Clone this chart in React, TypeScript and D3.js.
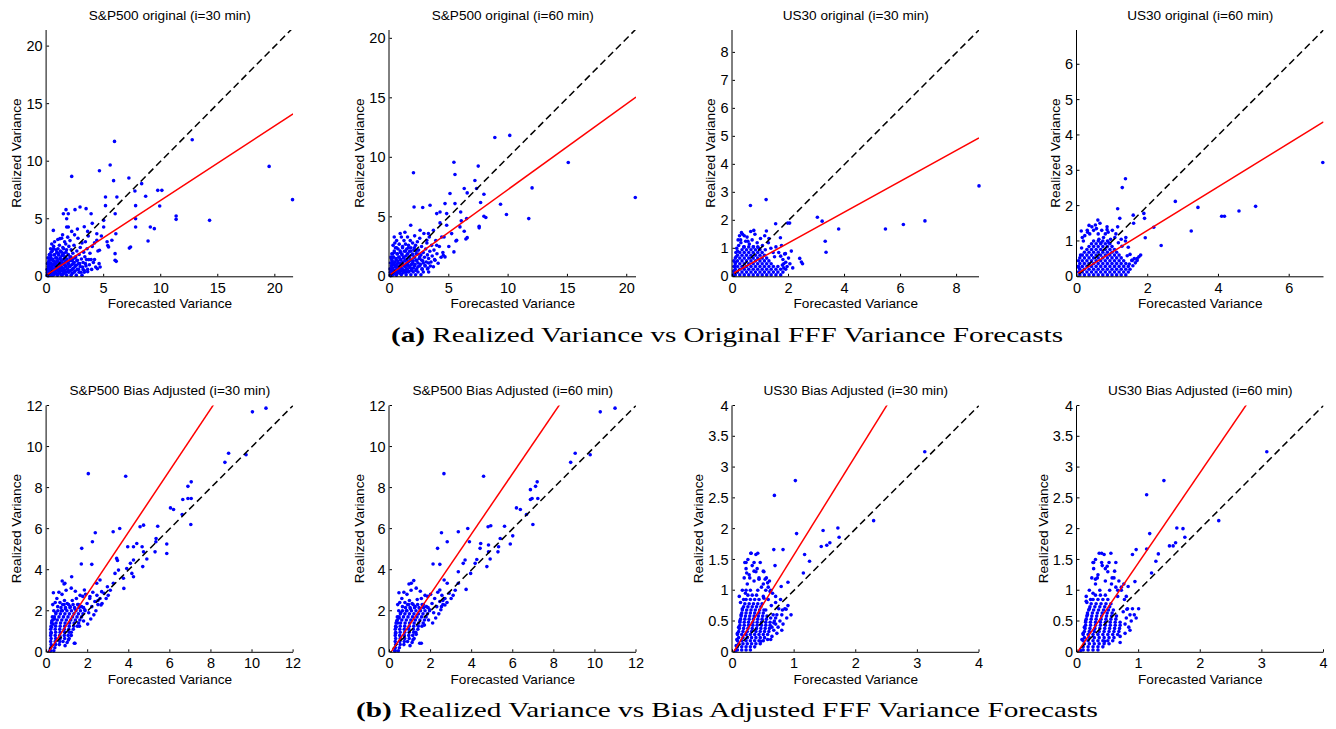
import React from "react";
import * as d3 from "d3";

type Pt = [number, number];

// ---------- titles / captions ----------
const panelTitles = [
  "S&P500 original (i=30 min)",
  "S&P500 original (i=60 min)",
  "US30 original (i=30 min)",
  "US30 original (i=60 min)",
  "S&P500 Bias Adjusted (i=30 min)",
  "S&P500 Bias Adjusted (i=60 min)",
  "US30 Bias Adjusted (i=30 min)",
  "US30 Bias Adjusted (i=60 min)",
];
const xAxisLabel = "Forecasted Variance";
const yAxisLabel = "Realized Variance";
const captionTags = ["(a)", "(b)"];
const captionTexts = [
  " Realized Variance vs Original FFF Variance Forecasts",
  " Realized Variance vs Bias Adjusted FFF Variance Forecasts",
];

// ---------- axes ----------
const xAxisMax = [21.6, 20.78, 8.8, 6.97, 12, 12, 4, 4];
const yAxisMax = [21.4, 20.7, 8.8, 6.97, 12, 12, 4, 4];
const xTickValues = [
  [0, 5, 10, 15, 20],
  [0, 5, 10, 15, 20],
  [0, 2, 4, 6, 8],
  [0, 2, 4, 6],
  [0, 2, 4, 6, 8, 10, 12],
  [0, 2, 4, 6, 8, 10, 12],
  [0, 1, 2, 3, 4],
  [0, 1, 2, 3, 4],
];
const yTickValues = [
  [0, 5, 10, 15, 20],
  [0, 5, 10, 15, 20],
  [0, 1, 2, 3, 4, 5, 6, 7, 8],
  [0, 1, 2, 3, 4, 5, 6],
  [0, 2, 4, 6, 8, 10, 12],
  [0, 2, 4, 6, 8, 10, 12],
  [0, 0.5, 1, 1.5, 2, 2.5, 3, 3.5, 4],
  [0, 0.5, 1, 1.5, 2, 2.5, 3, 3.5, 4],
];

// ---------- regression (red) lines and 45-degree (dashed) lines ----------
const fitIntercept = [0.13, 0.1, 0.09, 0.07, -0.15, -0.12, -0.03, -0.015];
const fitSlope = [0.647, 0.72, 0.552, 0.617, 1.5, 1.469, 1.61, 1.465];
const fitStartX = [0.1, 0.1, 0.05, 0.03, 0.1, 0.08, 0.02, 0.01];
const diagStartX = [0.1, 0.1, 0.08, 0.06, 0.12, 0.15, 0.05, 0.05];

// ---------- scatter data ----------
// dense cores, written as rows: [y, x1, x2, ...]
const spx30OrigCoreRows: number[][] = [
  [0.1, 0.2, 0.55, 0.95, 1.35, 1.75, 2.15, 2.6, 3.1],
  [0.35, 0.1, 0.4, 0.75, 1.15, 1.55, 1.95, 2.4, 2.85, 3.3],
  [0.6, 0.05, 0.25, 0.6, 1.0, 1.4, 1.85, 2.25, 2.7, 3.2, 3.6],
  [0.85, 0.15, 0.45, 0.85, 1.25, 1.65, 2.05, 2.5, 2.95],
  [1.1, 0.08, 0.3, 0.7, 1.1, 1.5, 1.9, 2.35, 2.8, 3.4],
  [1.35, 0.2, 0.55, 0.95, 1.35, 1.75, 2.2, 2.65],
  [1.6, 0.12, 0.35, 0.8, 1.2, 1.6, 2.05, 2.5],
  [1.85, 0.25, 0.65, 1.05, 1.45, 1.9],
  [2.1, 0.4, 0.9, 1.3, 1.7],
  [2.4, 0.6, 1.0, 1.5],
];
const spx60OrigCoreRows: number[][] = [
  [0.12, 0.2, 0.6, 1.0, 1.4, 1.8, 2.2, 2.65],
  [0.36, 0.1, 0.45, 0.8, 1.2, 1.6, 2.0, 2.4, 2.85, 3.3],
  [0.62, 0.05, 0.25, 0.65, 1.05, 1.45, 1.85, 2.3, 2.75, 3.2],
  [0.87, 0.15, 0.5, 0.9, 1.3, 1.7, 2.1, 2.55, 3.0, 3.45],
  [1.12, 0.08, 0.3, 0.7, 1.1, 1.5, 1.95, 2.4, 2.85, 3.3],
  [1.37, 0.2, 0.55, 0.95, 1.35, 1.8, 2.25, 2.7],
  [1.62, 0.12, 0.35, 0.8, 1.2, 1.65, 2.1, 2.55],
  [1.87, 0.25, 0.65, 1.05, 1.5, 1.95, 2.4],
  [2.12, 0.4, 0.9, 1.35, 1.8, 2.25],
  [2.4, 0.6, 1.1, 1.6, 2.1],
];
const us30OrigCoreRows: number[][] = [
  [0.05, 0.1, 0.26, 0.42, 0.58, 0.74, 0.9, 1.06, 1.22, 1.38, 1.55, 1.72],
  [0.15, 0.05, 0.18, 0.34, 0.5, 0.66, 0.82, 0.98, 1.14, 1.3, 1.46, 1.62, 1.8],
  [0.25, 0.1, 0.26, 0.42, 0.58, 0.74, 0.9, 1.06, 1.22, 1.38, 1.55, 1.72, 1.9],
  [0.35, 0.05, 0.18, 0.34, 0.5, 0.66, 0.82, 0.98, 1.14, 1.3, 1.46, 1.62],
  [0.45, 0.1, 0.26, 0.42, 0.58, 0.74, 0.9, 1.06, 1.22, 1.38],
  [0.55, 0.05, 0.18, 0.34, 0.5, 0.66, 0.82, 0.98, 1.14, 1.3],
  [0.65, 0.1, 0.26, 0.42, 0.58, 0.74, 0.9, 1.06, 1.22],
  [0.75, 0.18, 0.34, 0.5, 0.66, 0.82, 0.98, 1.14],
  [0.85, 0.26, 0.42, 0.58, 0.74, 0.9, 1.06],
  [0.95, 0.34, 0.5, 0.66, 0.82, 0.98],
  [1.05, 0.42, 0.58, 0.74, 0.9],
];
const us60OrigCoreRows: number[][] = [
  [0.04, 0.08, 0.21, 0.34, 0.47, 0.6, 0.73, 0.86, 0.99, 1.12, 1.25, 1.38],
  [0.12, 0.04, 0.15, 0.28, 0.41, 0.54, 0.67, 0.8, 0.93, 1.06, 1.19, 1.32, 1.45],
  [0.2, 0.08, 0.21, 0.34, 0.47, 0.6, 0.73, 0.86, 0.99, 1.12, 1.25, 1.38, 1.5],
  [0.28, 0.04, 0.15, 0.28, 0.41, 0.54, 0.67, 0.8, 0.93, 1.06, 1.19, 1.32, 1.45],
  [0.36, 0.08, 0.21, 0.34, 0.47, 0.6, 0.73, 0.86, 0.99, 1.12, 1.25, 1.38],
  [0.44, 0.04, 0.15, 0.28, 0.41, 0.54, 0.67, 0.8, 0.93, 1.06, 1.19, 1.32],
  [0.52, 0.08, 0.21, 0.34, 0.47, 0.6, 0.73, 0.86, 0.99, 1.12, 1.25],
  [0.6, 0.15, 0.28, 0.41, 0.54, 0.67, 0.8, 0.93, 1.06, 1.19],
  [0.68, 0.21, 0.34, 0.47, 0.6, 0.73, 0.86, 0.99, 1.12],
  [0.76, 0.28, 0.41, 0.54, 0.67, 0.8, 0.93, 1.06],
  [0.84, 0.34, 0.47, 0.6, 0.73, 0.86, 0.99],
  [0.92, 0.41, 0.54, 0.67, 0.8, 0.93],
  [1.0, 0.47, 0.6, 0.73, 0.86],
];
const spx30AdjCoreRows: number[][] = [
  [0.05, 0.2, 0.35],
  [0.2, 0.2, 0.4],
  [0.35, 0.22, 0.44, 0.62],
  [0.5, 0.2, 0.42, 0.64, 0.8],
  [0.65, 0.22, 0.44, 0.66, 0.88],
  [0.8, 0.2, 0.42, 0.64, 0.86, 1.05],
  [0.95, 0.22, 0.44, 0.66, 0.88, 1.1, 1.2],
  [1.1, 0.2, 0.42, 0.64, 0.86, 1.08, 1.3],
  [1.25, 0.22, 0.44, 0.66, 0.88, 1.1, 1.32, 1.5],
  [1.4, 0.24, 0.46, 0.68, 0.9, 1.12, 1.34, 1.56],
  [1.55, 0.3, 0.52, 0.74, 0.96, 1.18, 1.4, 1.62],
  [1.7, 0.38, 0.6, 0.82, 1.04, 1.26, 1.48, 1.7],
  [1.85, 0.45, 0.67, 0.89, 1.11, 1.33, 1.55, 1.77],
  [2.0, 0.55, 0.77, 0.99, 1.21, 1.43, 1.65, 1.87],
  [2.15, 0.7, 0.92, 1.14, 1.36, 1.58, 1.8],
  [2.3, 0.85, 1.07, 1.29, 1.51],
];
const spx60AdjCoreRows: number[][] = [
  [0.05, 0.28, 0.43],
  [0.2, 0.28, 0.48],
  [0.35, 0.3, 0.52, 0.7],
  [0.5, 0.28, 0.5, 0.72, 0.88],
  [0.65, 0.3, 0.52, 0.74, 0.96],
  [0.8, 0.28, 0.5, 0.72, 0.94, 1.13],
  [0.95, 0.3, 0.52, 0.74, 0.96, 1.18, 1.28],
  [1.1, 0.28, 0.5, 0.72, 0.94, 1.16, 1.38],
  [1.25, 0.3, 0.52, 0.74, 0.96, 1.18, 1.4, 1.58],
  [1.4, 0.32, 0.54, 0.76, 0.98, 1.2, 1.42, 1.64],
  [1.55, 0.38, 0.6, 0.82, 1.04, 1.26, 1.48, 1.7],
  [1.7, 0.46, 0.68, 0.9, 1.12, 1.34, 1.56, 1.78],
  [1.85, 0.53, 0.75, 0.97, 1.19, 1.41, 1.63, 1.85],
  [2.0, 0.63, 0.85, 1.07, 1.29, 1.51, 1.73, 1.95],
  [2.15, 0.78, 1.0, 1.22, 1.44, 1.66, 1.88],
  [2.3, 0.93, 1.15, 1.37, 1.59],
];
const us30AdjCoreRows: number[][] = [
  [0.03, 0.08, 0.15, 0.22, 0.29],
  [0.08, 0.08, 0.15, 0.22, 0.29, 0.36],
  [0.13, 0.1, 0.17, 0.24, 0.31, 0.38, 0.45],
  [0.18, 0.08, 0.15, 0.22, 0.29, 0.36, 0.43, 0.5],
  [0.23, 0.1, 0.17, 0.24, 0.31, 0.38, 0.45, 0.52],
  [0.28, 0.08, 0.15, 0.22, 0.29, 0.36, 0.43, 0.5, 0.57],
  [0.33, 0.1, 0.17, 0.24, 0.31, 0.38, 0.45, 0.52, 0.59],
  [0.38, 0.11, 0.18, 0.25, 0.32, 0.39, 0.46, 0.53, 0.6],
  [0.43, 0.12, 0.19, 0.26, 0.33, 0.4, 0.47, 0.54, 0.61],
  [0.48, 0.12, 0.19, 0.26, 0.33, 0.4, 0.47, 0.54, 0.61],
  [0.53, 0.13, 0.2, 0.27, 0.34, 0.41, 0.48, 0.55],
  [0.58, 0.14, 0.21, 0.28, 0.35, 0.42, 0.49, 0.56],
  [0.63, 0.15, 0.22, 0.29, 0.36, 0.43, 0.5],
  [0.68, 0.16, 0.23, 0.3, 0.37, 0.44, 0.51],
  [0.73, 0.18, 0.25, 0.32, 0.39, 0.46],
  [0.78, 0.2, 0.27, 0.34, 0.41, 0.48],
  [0.85, 0.22, 0.29, 0.36, 0.43],
  [0.92, 0.25, 0.32, 0.39],
];
const us60AdjCoreRows: number[][] = [
  [0.03, 0.1, 0.18, 0.26, 0.34],
  [0.08, 0.1, 0.18, 0.26, 0.34, 0.42],
  [0.13, 0.12, 0.2, 0.28, 0.36, 0.44, 0.52],
  [0.18, 0.1, 0.18, 0.26, 0.34, 0.42, 0.5, 0.58],
  [0.23, 0.12, 0.2, 0.28, 0.36, 0.44, 0.52, 0.6],
  [0.28, 0.1, 0.18, 0.26, 0.34, 0.42, 0.5, 0.58, 0.66],
  [0.33, 0.12, 0.2, 0.28, 0.36, 0.44, 0.52, 0.6, 0.68],
  [0.38, 0.13, 0.21, 0.29, 0.37, 0.45, 0.53, 0.61, 0.69],
  [0.43, 0.14, 0.22, 0.3, 0.38, 0.46, 0.54, 0.62, 0.7],
  [0.48, 0.14, 0.22, 0.3, 0.38, 0.46, 0.54, 0.62, 0.7],
  [0.53, 0.15, 0.23, 0.31, 0.39, 0.47, 0.55, 0.63],
  [0.58, 0.16, 0.24, 0.32, 0.4, 0.48, 0.56, 0.64],
  [0.63, 0.17, 0.25, 0.33, 0.41, 0.49, 0.57],
  [0.68, 0.19, 0.27, 0.35, 0.43, 0.51, 0.59],
  [0.73, 0.21, 0.29, 0.37, 0.45, 0.53],
  [0.78, 0.23, 0.31, 0.39, 0.47, 0.55],
  [0.85, 0.26, 0.34, 0.42, 0.5],
  [0.92, 0.3, 0.38, 0.46],
];

// scattered cluster points and outliers, [x, y]
const spx30OrigCluster: Pt[] = [
  [0.05,0.08],[0.08,0.3],[0.1,0.15],[0.12,0.5],[0.15,0.05],[0.18,0.7],[0.2,0.25],[0.22,1.0],[0.25,0.4],[0.28,0.12],[0.3,0.8],[0.3,1.4],[0.33,0.3],[0.35,0.55],[0.38,1.8],[0.4,0.1],[0.42,1.1],[0.45,0.45],[0.48,0.75],[0.5,2.2],[0.5,0.2],[0.52,1.5],[0.55,0.35],[0.58,1.0],[0.6,0.6],[0.62,2.6],[0.65,0.15],[0.68,1.3],[0.7,0.5],[0.72,1.9],[0.75,0.85],[0.78,0.3],[0.8,1.1],[0.82,2.3],[0.85,0.6],[0.88,1.6],[0.9,0.2],[0.92,0.9],[0.95,1.3],[0.98,3.2],[1.0,0.45],[1.02,2.0],[1.05,0.75],[1.08,1.15],[1.1,0.3],[1.12,2.7],[1.15,1.5],[1.18,0.6],[1.2,1.0],[1.22,2.2],[1.25,0.15],[1.28,1.3],[1.3,0.8],[1.32,3.3],[1.35,1.8],[1.38,0.45],[1.4,1.1],[1.42,2.5],[1.45,0.7],[1.48,1.45],[1.5,0.25],[1.52,2.0],[1.55,1.0],[1.58,3.0],[1.6,0.55],[1.62,1.7],[1.65,1.25],[1.68,2.8],[1.7,0.35],[1.72,0.9],[1.75,2.3],[1.78,1.5],[1.8,0.65],[1.85,3.4],[1.88,1.1],[1.9,1.9],[1.92,0.4],[1.95,2.6],[2.0,0.85],[2.02,1.35],[2.05,3.1],[2.1,0.5],[2.12,1.7],[2.15,2.3],[2.2,1.0],[2.25,0.25],[2.28,1.45],[2.3,2.0],[2.35,0.7],[2.4,2.7],[2.42,1.2],[2.45,3.6],[2.5,0.45],[2.55,1.7],[2.6,0.95],[2.65,2.2],[2.7,1.4],[2.75,3.3],[2.8,0.6],[2.85,1.9],[2.9,1.1],[2.95,2.5],[3.0,0.35],[3.05,1.5],[3.1,2.9],[3.15,0.8],[3.2,1.2],[3.25,2.1],[3.3,0.5],[3.35,1.7],[3.4,3.0],[3.45,0.9],[3.5,1.45],[3.55,2.4],[3.6,0.4],[3.7,1.45],[3.75,1.0],[3.8,2.0],[3.9,1.45],[3.95,0.6],[4.0,2.6],[4.1,1.2],[4.2,1.45],[4.3,0.8],[4.45,0.65],[4.5,2.2],[4.6,1.1],[3.65,3.5],[2.2,3.9],[1.4,3.6],[0.7,3.0],[0.45,2.8],[0.25,1.9],[0.15,1.2],[0.35,2.4],
];
const spx30OrigOutliers: Pt[] = [
  [12.76,11.87],[5.95,11.72],[19.5,9.55],[2.2,8.68],[4.63,9.17],[5.57,9.67],[5.87,8.31],[7.21,8.54],[8.33,8.05],[21.55,6.66],[9.74,7.47],[10.1,7.47],[7.74,7.41],[8.68,6.95],[9.91,6.11],[7.8,6.14],[11.35,5.24],[11.35,4.95],[14.28,4.86],[9.09,4.28],[9.44,4.14],[7.8,5.0],[7.8,4.28],[8.89,3.07],[7.36,2.55],[5.16,6.89],[6.16,6.89],[5.16,6.14],[4.63,2.26],[4.69,0.81],[5.43,2.55],[6.01,5.44],[6.07,3.7],[6.0,1.97],[6.0,1.39],[5.72,3.13],[5.0,4.86],[5.0,4.28],[4.4,3.7],[4.4,3.13],[3.9,5.44],[3.46,5.88],[2.93,6.02],[2.49,5.79],[1.7,5.79],[1.47,5.44],[1.9,5.44],[1.76,4.28],[1.9,4.28],[1.76,5.0],[0.59,3.99],[1.17,3.27],[5.36,2.67],[6.1,1.3],[7.25,2.45],[3.3,4.3],[4.0,4.6],[2.7,4.1],[3.6,3.9],[4.8,3.5],[5.3,3.0],[4.2,2.9],
];

const spx60OrigCluster: Pt[] = [
  [0.05,0.1],[0.08,0.35],[0.1,0.05],[0.12,0.6],[0.15,0.2],[0.18,0.9],[0.2,0.4],[0.22,1.3],[0.25,0.1],[0.28,0.7],[0.3,1.6],[0.32,0.3],[0.35,1.0],[0.38,0.5],[0.4,2.0],[0.42,0.2],[0.45,1.2],[0.48,0.8],[0.5,2.4],[0.52,0.4],[0.55,1.5],[0.58,0.1],[0.6,1.0],[0.62,0.6],[0.65,1.9],[0.68,0.3],[0.7,1.3],[0.72,2.3],[0.75,0.8],[0.78,0.5],[0.8,1.6],[0.82,2.7],[0.85,1.1],[0.88,0.25],[0.9,0.7],[0.92,2.0],[0.95,1.4],[0.98,0.45],[1.0,3.3],[1.02,1.0],[1.05,1.8],[1.08,0.6],[1.1,2.5],[1.12,1.2],[1.15,0.3],[1.18,1.55],[1.2,0.9],[1.22,3.0],[1.25,2.1],[1.28,0.5],[1.3,1.3],[1.32,0.8],[1.35,2.7],[1.38,1.7],[1.4,0.35],[1.42,1.0],[1.45,2.3],[1.48,1.4],[1.5,0.6],[1.52,3.3],[1.55,1.9],[1.58,0.9],[1.6,2.6],[1.62,1.2],[1.65,0.4],[1.68,1.6],[1.7,2.1],[1.72,0.75],[1.75,3.0],[1.78,1.35],[1.8,2.4],[1.85,1.0],[1.88,0.5],[1.9,1.8],[1.95,2.8],[2.0,1.3],[2.02,0.7],[2.05,2.2],[2.1,1.6],[2.12,3.4],[2.15,1.0],[2.2,2.6],[2.22,0.5],[2.25,1.9],[2.3,1.3],[2.35,2.9],[2.4,0.8],[2.45,2.2],[2.5,1.5],[2.55,3.2],[2.6,1.0],[2.65,1.8],[2.7,2.5],[2.75,0.6],[2.8,1.3],[2.85,2.0],[2.9,3.6],[2.95,1.6],[3.0,0.9],[3.05,2.3],[3.1,1.2],[3.15,2.8],[3.2,1.8],[3.25,0.7],[3.3,1.5],[3.35,3.3],[3.4,2.1],[3.5,1.2],[3.55,2.6],[3.6,1.7],[3.7,0.8],[3.75,2.2],[3.8,1.4],[3.9,3.0],[4.0,1.9],[4.1,1.1],[4.2,2.5],[4.35,1.6],[4.5,2.0],[4.6,3.3],[0.3,2.6],[0.6,3.0],[0.4,3.3],[0.9,3.6],[1.3,3.7],[0.2,1.9],[0.15,1.5],[0.45,2.8],
];
const spx60OrigOutliers: Pt[] = [
  [8.88,11.67],[10.14,11.84],[15.07,9.57],[20.72,6.62],[12.02,7.43],[11.74,4.85],[9.86,5.19],[9.36,6.06],[5.43,9.59],[5.52,8.56],[2.02,8.7],[7.48,9.26],[7.2,8.05],[7.34,7.38],[7.96,6.9],[6.3,7.38],[6.55,7.01],[5.52,6.11],[5.1,6.96],[7.68,6.2],[7.96,5.05],[8.12,4.94],[7.56,4.21],[7.56,4.07],[6.5,4.85],[6.55,3.25],[6.44,3.14],[6.3,3.79],[6.05,4.66],[6.0,5.4],[5.66,3.03],[5.6,2.97],[5.43,2.05],[4.54,1.77],[4.68,1.63],[3.84,1.35],[4.68,6.11],[4.82,5.27],[4.26,5.41],[3.98,5.27],[3.42,5.97],[2.8,5.78],[2.07,5.83],[1.79,4.29],[4.26,4.49],[4.82,4.29],[5.94,4.15],[5.24,3.59],[3.98,2.61],[3.7,3.87],[3.28,3.59],[2.58,3.87],[3.14,3.03],[4.4,3.3],[5.0,2.5],
];

const us30OrigCluster: Pt[] = [
  [0.03,0.05],[0.05,0.2],[0.08,0.35],[0.1,0.5],[0.13,0.7],[0.18,0.9],[0.22,1.1],[0.29,1.3],[0.36,1.5],[0.4,1.05],[0.47,1.25],[0.52,1.4],[0.6,1.15],[0.65,1.6],[0.7,1.3],[0.75,1.05],[0.8,1.5],[0.88,1.2],[0.95,1.0],[1.0,1.35],[1.07,1.1],[1.15,1.45],[1.17,0.95],[1.28,1.2],[1.37,1.0],[1.45,0.85],[1.5,0.7],[1.55,1.05],[1.65,0.85],[1.72,0.72],[1.75,1.1],[1.78,0.4],[1.8,0.6],[1.83,0.3],[1.86,0.8],[1.9,0.5],[1.95,0.35],[2.0,0.65],[2.05,0.45],[2.1,0.9],[2.15,0.3],[0.15,1.0],[0.2,1.3],[0.25,1.45],[0.12,0.85],[0.3,1.2],[0.42,1.45],[0.55,1.25],
];
const us30OrigOutliers: Pt[] = [
  [8.8,3.23],[6.87,1.98],[6.1,1.85],[5.46,1.69],[3.79,1.69],[3.03,2.11],[3.2,1.97],[3.31,1.25],[3.34,0.86],[0.64,2.53],[1.2,2.74],[1.54,1.88],[1.97,1.9],[2.04,1.9],[1.21,1.62],[0.76,1.64],[0.32,1.56],[1.71,1.38],[1.3,1.35],[2.4,0.64],[2.46,0.51],[2.5,0.45],[1.89,0.81],[1.83,0.45],
];

const us60OrigCluster: Pt[] = [
  [0.05,0.25],[0.1,0.6],[0.13,0.8],[0.18,1.0],[0.22,1.15],[0.29,1.3],[0.36,1.2],[0.47,1.3],[0.52,1.45],[0.6,1.2],[0.65,1.5],[0.7,1.3],[0.75,1.1],[0.8,1.2],[0.88,1.25],[0.95,1.05],[1.0,1.3],[1.07,1.1],[1.15,1.4],[1.17,0.95],[1.27,0.85],[1.37,1.0],[1.42,0.58],[1.45,0.82],[1.48,0.35],[1.5,0.62],[1.55,0.45],[1.58,0.3],[1.62,0.5],[1.65,0.38],[1.7,0.45],[1.75,0.55],[0.15,1.1],[0.3,1.25],[0.42,1.4],[0.55,1.35],[0.62,1.05],[0.68,0.95],[0.9,0.95],[1.1,1.2],[1.25,1.05],[0.85,1.4],
];
const us60OrigOutliers: Pt[] = [
  [6.95,3.22],[5.05,1.98],[4.58,1.85],[4.09,1.7],[4.17,1.7],[3.42,1.95],[2.78,2.12],[3.23,1.28],[2.38,0.87],[2.17,1.39],[1.93,1.09],[1.37,2.76],[1.28,2.51],[1.15,1.91],[1.21,1.64],[1.89,1.78],[1.91,1.64],[1.59,1.73],[1.7,0.5],[1.56,0.45],[0.12,1.28],[0.34,1.44],[0.59,1.59],[0.85,1.32],[1.38,1.1],[1.6,1.5],[1.8,0.6],
];

const spx30AdjCluster: Pt[] = [
  [0.15,0.05],[0.22,0.9],[0.24,1.2],[0.32,1.35],[0.38,1.6],[0.45,1.9],[0.54,2.2],[0.65,2.4],[0.72,2.0],[0.78,2.3],[0.87,2.5],[0.92,2.1],[1.0,2.35],[1.15,2.2],[1.25,2.5],[1.38,2.1],[1.45,2.6],[1.55,2.3],[1.63,2.75],[1.7,2.2],[1.76,2.7],[1.86,2.05],[1.9,2.8],[1.97,2.35],[2.0,1.35],[2.05,1.9],[2.1,2.6],[2.15,1.6],[2.2,2.2],[2.25,2.9],[2.3,1.8],[2.35,2.45],[2.4,2.0],[2.45,2.75],[2.5,2.3],[2.6,2.6],[2.7,2.35],[2.8,2.85],[0.9,0.3],[1.0,0.45],[1.1,0.65],[0.42,2.4],[0.5,2.6],[0.6,2.9],[0.35,2.0],[0.28,1.7],[0.75,2.8],[0.95,3.0],[0.85,3.3],[1.2,3.1],[1.4,2.95],[0.3,2.3],[0.25,1.5],[1.35,0.42],[1.6,1.25],[1.8,1.5],[1.2,0.8],
];
const spx30AdjOutliers: Pt[] = [
  [10.68,11.87],[10.02,11.69],[8.86,9.67],[8.68,9.23],[9.71,9.6],[2.03,8.68],[3.85,8.55],[7.04,8.28],[6.88,8.06],[7.04,7.47],[6.88,7.47],[6.63,7.42],[6.03,7.01],[6.18,6.93],[6.6,6.69],[7.02,6.2],[4.72,6.17],[4.55,6.09],[5.41,6.12],[3.56,6.01],[3.24,5.85],[2.37,5.8],[2.23,5.36],[1.71,5.04],[1.69,4.28],[2.2,4.26],[3.95,5.12],[4.23,5.12],[4.39,5.28],[4.65,5.12],[5.33,5.52],[5.32,5.36],[5.85,5.25],[5.85,4.79],[5.28,4.87],[4.72,4.87],[4.88,4.52],[4.68,4.15],[4.23,4.47],[4.08,4.31],[3.9,4.06],[3.45,4.45],[3.5,3.98],[3.33,3.82],[3.41,4.55],[4.15,3.82],[4.23,3.66],[3.76,3.09],[3.74,3.58],[3.25,3.34],[2.96,3.17],[2.6,3.5],[2.44,3.34],[2.68,2.93],[2.65,2.28],[2.11,2.69],[1.84,3.01],[1.22,3.66],[0.89,3.34],[0.76,3.45],[0.33,2.88],[1.38,0.42],[1.06,0.58],[2.9,2.6],[3.1,3.0],[3.0,2.75],[2.5,2.5],
];

const spx60AdjCluster: Pt[] = [
  [0.25,0.05],[0.3,0.9],[0.32,1.2],[0.4,1.4],[0.47,1.65],[0.55,1.9],[0.63,2.2],[0.75,2.4],[0.82,2.0],[0.88,2.3],[0.97,2.5],[1.02,2.1],[1.1,2.35],[1.25,2.2],[1.35,2.55],[1.48,2.1],[1.55,2.6],[1.65,2.3],[1.73,2.75],[1.8,2.2],[1.86,2.7],[1.96,2.05],[2.0,2.8],[2.07,2.35],[2.1,1.4],[2.15,1.9],[2.2,2.6],[2.25,1.65],[2.3,2.2],[2.35,2.9],[2.4,1.85],[2.45,2.45],[2.5,2.05],[2.55,2.75],[2.6,2.3],[2.7,2.6],[2.8,2.4],[2.9,2.85],[1.0,0.3],[1.1,0.45],[1.2,0.65],[0.5,2.4],[0.6,2.6],[0.7,2.9],[0.45,2.0],[0.38,1.7],[0.85,2.8],[1.05,3.0],[0.95,3.3],[1.3,3.1],[1.5,2.95],[0.4,2.3],[0.35,1.5],[1.55,0.42],[1.7,1.3],[1.9,1.55],[1.3,0.85],
];
const spx60AdjOutliers: Pt[] = [
  [10.98,11.87],[10.26,11.69],[9.04,9.67],[8.82,9.23],[9.77,9.6],[2.65,8.68],[4.58,8.55],[7.19,8.28],[7.11,8.06],[6.86,7.9],[7.22,7.47],[6.94,7.47],[6.86,7.42],[6.18,7.01],[6.37,6.93],[6.67,6.69],[6.98,6.2],[4.93,6.14],[4.8,6.09],[5.6,6.12],[3.81,6.01],[3.35,5.85],[2.53,5.8],[2.34,5.04],[2.81,5.36],[2.12,4.28],[2.45,4.26],[3.89,5.36],[4.41,5.04],[4.44,5.28],[4.82,5.2],[5.31,5.12],[5.39,5.52],[5.88,5.25],[6.0,5.65],[5.28,4.87],[4.82,4.87],[4.9,4.52],[4.74,4.15],[4.25,4.5],[4.17,4.31],[3.95,3.82],[3.68,4.47],[3.59,4.31],[3.35,3.9],[3.73,3.04],[3.35,3.34],[2.81,3.34],[2.66,3.5],[2.45,3.01],[2.7,2.28],[2.53,2.2],[1.06,3.34],[1.18,3.47],[0.46,2.88],[1.47,0.42],[1.14,0.58],[3.0,2.6],[3.2,3.0],[3.1,2.75],[2.6,2.5],
];

const us30AdjCluster: Pt[] = [
  [0.05,0.02],[0.06,0.1],[0.07,0.2],[0.08,0.3],[0.1,0.4],[0.12,0.5],[0.14,0.6],[0.16,0.7],[0.18,0.85],[0.21,0.95],[0.24,1.1],[0.27,1.25],[0.29,1.0],[0.32,1.4],[0.35,1.15],[0.38,1.3],[0.41,1.0],[0.43,1.2],[0.47,1.05],[0.5,0.9],[0.51,1.3],[0.54,1.0],[0.58,0.85],[0.6,1.15],[0.62,0.55],[0.63,0.75],[0.64,0.4],[0.65,0.95],[0.66,0.6],[0.67,0.35],[0.68,0.5],[0.7,0.8],[0.7,0.45],[0.72,0.6],[0.74,0.4],[0.75,0.7],[0.77,0.5],[0.78,0.85],[0.8,0.6],[0.82,0.45],[0.85,0.7],[0.88,0.55],[0.9,0.75],[0.95,0.6],[0.13,0.8],[0.16,1.0],[0.19,1.2],[0.22,1.35],[0.25,1.5],[0.2,1.45],[0.28,1.2],[0.35,1.45],[0.4,1.35],[0.11,0.9],[0.3,1.6],[0.38,1.58],[0.55,1.2],[0.62,1.0],[0.45,1.45],[0.5,1.1],[0.57,0.2],[0.64,0.25],[0.72,0.3],[0.8,0.35],[0.62,0.2],[0.7,0.9],[0.58,1.05],
];
const us30AdjOutliers: Pt[] = [
  [3.12,3.25],[2.29,2.13],[1.02,2.78],[0.68,2.54],[1.04,1.92],[1.47,1.97],[1.71,2.01],[1.73,1.86],[1.44,1.71],[1.53,1.73],[1.58,1.77],[1.17,1.58],[1.25,1.47],[1.15,1.28],[0.82,1.66],[0.67,1.66],[0.69,1.4],[0.9,1.13],[0.79,1.06],[0.87,0.69],[0.81,0.68],[0.67,0.47],[0.7,0.55],[0.3,1.6],[0.41,1.6],[0.22,1.45],[0.23,1.28],[0.22,1.0],[0.35,1.31],[0.5,1.31],[0.53,1.18],[0.43,1.18],[0.57,1.12],[0.61,0.98],[0.51,0.87],[0.54,0.68],[0.46,0.17],
];

const us60AdjCluster: Pt[] = [
  [0.06,0.02],[0.08,0.2],[0.1,0.3],[0.12,0.4],[0.14,0.5],[0.17,0.6],[0.2,0.7],[0.22,0.85],[0.26,0.95],[0.3,1.1],[0.34,1.25],[0.37,1.0],[0.41,1.4],[0.46,1.15],[0.5,1.3],[0.53,1.0],[0.57,1.2],[0.63,1.05],[0.66,0.9],[0.68,1.15],[0.72,1.0],[0.75,0.65],[0.77,0.85],[0.78,0.45],[0.8,0.55],[0.82,0.7],[0.84,0.4],[0.86,0.6],[0.88,0.5],[0.9,0.7],[0.93,0.6],[0.96,0.55],[1.0,0.7],[0.16,0.8],[0.2,1.0],[0.24,1.2],[0.27,1.35],[0.3,1.5],[0.26,1.45],[0.33,1.2],[0.4,1.45],[0.46,1.35],[0.15,0.9],[0.36,1.6],[0.44,1.58],[0.6,1.2],[0.66,1.0],[0.52,1.45],[0.56,1.1],[0.7,0.25],[0.78,0.3],[0.86,0.35],[0.7,0.15],[0.8,0.9],[0.72,1.05],[0.76,1.1],
];
const us60AdjOutliers: Pt[] = [
  [3.08,3.25],[2.3,2.13],[1.41,2.78],[1.13,2.55],[1.18,1.92],[1.62,2.01],[1.72,2.0],[1.75,1.86],[1.5,1.72],[1.56,1.72],[1.6,1.77],[1.32,1.59],[1.28,1.47],[1.21,1.28],[0.96,1.66],[1.13,1.67],[0.9,1.58],[0.94,1.14],[0.83,1.06],[0.81,0.69],[0.4,1.6],[0.55,1.6],[0.27,1.45],[0.63,1.45],[0.3,1.18],[0.49,1.39],[0.61,1.31],[0.15,0.82],[0.45,0.17],
];

function rowsToPts(rows: number[][]): Pt[] {
  const out: Pt[] = [];
  rows.forEach((r) => {
    for (let i = 1; i < r.length; i++) out.push([r[i], r[0]]);
  });
  return out;
}

const panelPoints: Pt[][] = [
  rowsToPts(spx30OrigCoreRows).concat(spx30OrigCluster, spx30OrigOutliers),
  rowsToPts(spx60OrigCoreRows).concat(spx60OrigCluster, spx60OrigOutliers),
  rowsToPts(us30OrigCoreRows).concat(us30OrigCluster, us30OrigOutliers),
  rowsToPts(us60OrigCoreRows).concat(us60OrigCluster, us60OrigOutliers),
  rowsToPts(spx30AdjCoreRows).concat(spx30AdjCluster, spx30AdjOutliers),
  rowsToPts(spx60AdjCoreRows).concat(spx60AdjCluster, spx60AdjOutliers),
  rowsToPts(us30AdjCoreRows).concat(us30AdjCluster, us30AdjOutliers),
  rowsToPts(us60AdjCoreRows).concat(us60AdjCluster, us60AdjOutliers),
];

// ---------- layout ----------
const W = 1336;
const H = 729;
const panelLefts = [46.6, 389.5, 732.5, 1077];
const rowTops = [30, 405.5];
const plotW = 246.5;
const plotH = 246.3;
const tickFont = 14.5;
const labelFont = 13.6;
const FONT = "'Liberation Sans', Arial, Helvetica, sans-serif";
const BLUE = "#0000ff";
const RED = "#ff0000";

function tickText(v: number) {
  return String(v);
}
function textW(s: string, size: number) {
  let w = 0;
  for (const c of s) w += c === "." ? 0.278 : 0.556;
  return w * size;
}

function Panel({ idx }: { idx: number }) {
  const row = idx < 4 ? 0 : 1;
  const col = idx % 4;
  const left = panelLefts[col];
  const top = rowTops[row];
  const xMax = xAxisMax[idx];
  const yMax = yAxisMax[idx];
  const x = d3.scaleLinear().domain([0, xMax]).range([0, plotW]);
  const y = d3.scaleLinear().domain([0, yMax]).range([plotH, 0]);
  const line = d3
    .line<Pt>()
    .x((d) => x(d[0]))
    .y((d) => y(d[1]));
  const fitPts: Pt[] = [
    [fitStartX[idx], fitIntercept[idx] + fitSlope[idx] * fitStartX[idx]],
    [xMax, fitIntercept[idx] + fitSlope[idx] * xMax],
  ];
  const diagEnd = Math.max(xMax, yMax);
  const diagPts: Pt[] = [
    [diagStartX[idx], diagStartX[idx]],
    [diagEnd, diagEnd],
  ];
  const yTicks = yTickValues[idx];
  const maxTickW = Math.max(...yTicks.map((v) => textW(tickText(v), tickFont)));
  const clipId = `clip-${idx}`;
  return (
    <g transform={`translate(${left},${top})`}>
      <defs>
        <clipPath id={clipId}>
          <rect x={0} y={0} width={plotW} height={plotH} />
        </clipPath>
      </defs>
      <g fill={BLUE}>
        {panelPoints[idx].map((p, i) => (
          <circle key={i} cx={x(p[0])} cy={y(p[1])} r={1.8} />
        ))}
      </g>
      <g clipPath={`url(#${clipId})`}>
        <path
          d={line(diagPts) || ""}
          fill="none"
          stroke="#000"
          strokeWidth={1.5}
          strokeDasharray="7,4"
        />
        <path d={line(fitPts) || ""} fill="none" stroke={RED} strokeWidth={1.5} />
      </g>
      <line x1={0} y1={plotH + 0.5} x2={plotW} y2={plotH + 0.5} stroke="#000" strokeWidth={1} />
      <line x1={-0.5} y1={0} x2={-0.5} y2={plotH + 0.5} stroke="#000" strokeWidth={1} />
      {xTickValues[idx].map((v) => (
        <g key={"xt" + v}>
          <line x1={x(v)} x2={x(v)} y1={plotH} y2={plotH - 2.5} stroke="#000" strokeWidth={1} />
          <text
            x={x(v)}
            y={plotH + 16.5}
            textAnchor="middle"
            fontSize={tickFont}
            fontFamily={FONT}
            fill="#000"
          >
            {tickText(v)}
          </text>
        </g>
      ))}
      {yTicks.map((v) => (
        <g key={"yt" + v}>
          <line x1={0} x2={2.5} y1={y(v)} y2={y(v)} stroke="#000" strokeWidth={1} />
          <text
            x={-4}
            y={y(v)}
            dy="0.35em"
            textAnchor="end"
            fontSize={tickFont}
            fontFamily={FONT}
            fill="#000"
          >
            {tickText(v)}
          </text>
        </g>
      ))}
      <text
        x={plotW / 2}
        y={plotH + 32}
        textAnchor="middle"
        fontSize={labelFont}
        fontFamily={FONT}
        fill="#000"
      >
        {xAxisLabel}
      </text>
      <text
        transform={`translate(${-4 - maxTickW - 10},${plotH / 2}) rotate(-90)`}
        dy="0.35em"
        textAnchor="middle"
        fontSize={labelFont}
        fontFamily={FONT}
        fill="#000"
      >
        {yAxisLabel}
      </text>
      <text
        x={plotW / 2}
        y={-10.5}
        textAnchor="middle"
        fontSize={labelFont}
        fontFamily={FONT}
        fill="#000"
      >
        {panelTitles[idx]}
      </text>
    </g>
  );
}

const captionCenterX = 727;
const captionBaselines = [342, 717];
const captionWidths = [672, 742];

export default function App() {
  return (
    <svg
      width={W}
      height={H}
      viewBox={`0 0 ${W} ${H}`}
      style={{ position: "absolute", left: 0, top: 0, background: "#fff" }}
    >
      <rect x={0} y={0} width={W} height={H} fill="#fff" />
      {panelTitles.map((_, i) => (
        <Panel key={i} idx={i} />
      ))}
      {captionTags.map((tag, i) => (
        <text
          key={tag}
          x={captionCenterX}
          y={captionBaselines[i]}
          textAnchor="middle"
          fontSize={21}
          fontFamily="'Liberation Serif', 'Times New Roman', serif"
          fill="#000"
          textLength={captionWidths[i]}
          lengthAdjust="spacingAndGlyphs"
        >
          <tspan fontWeight="bold">{tag}</tspan>
          <tspan>{captionTexts[i]}</tspan>
        </text>
      ))}
    </svg>
  );
}
